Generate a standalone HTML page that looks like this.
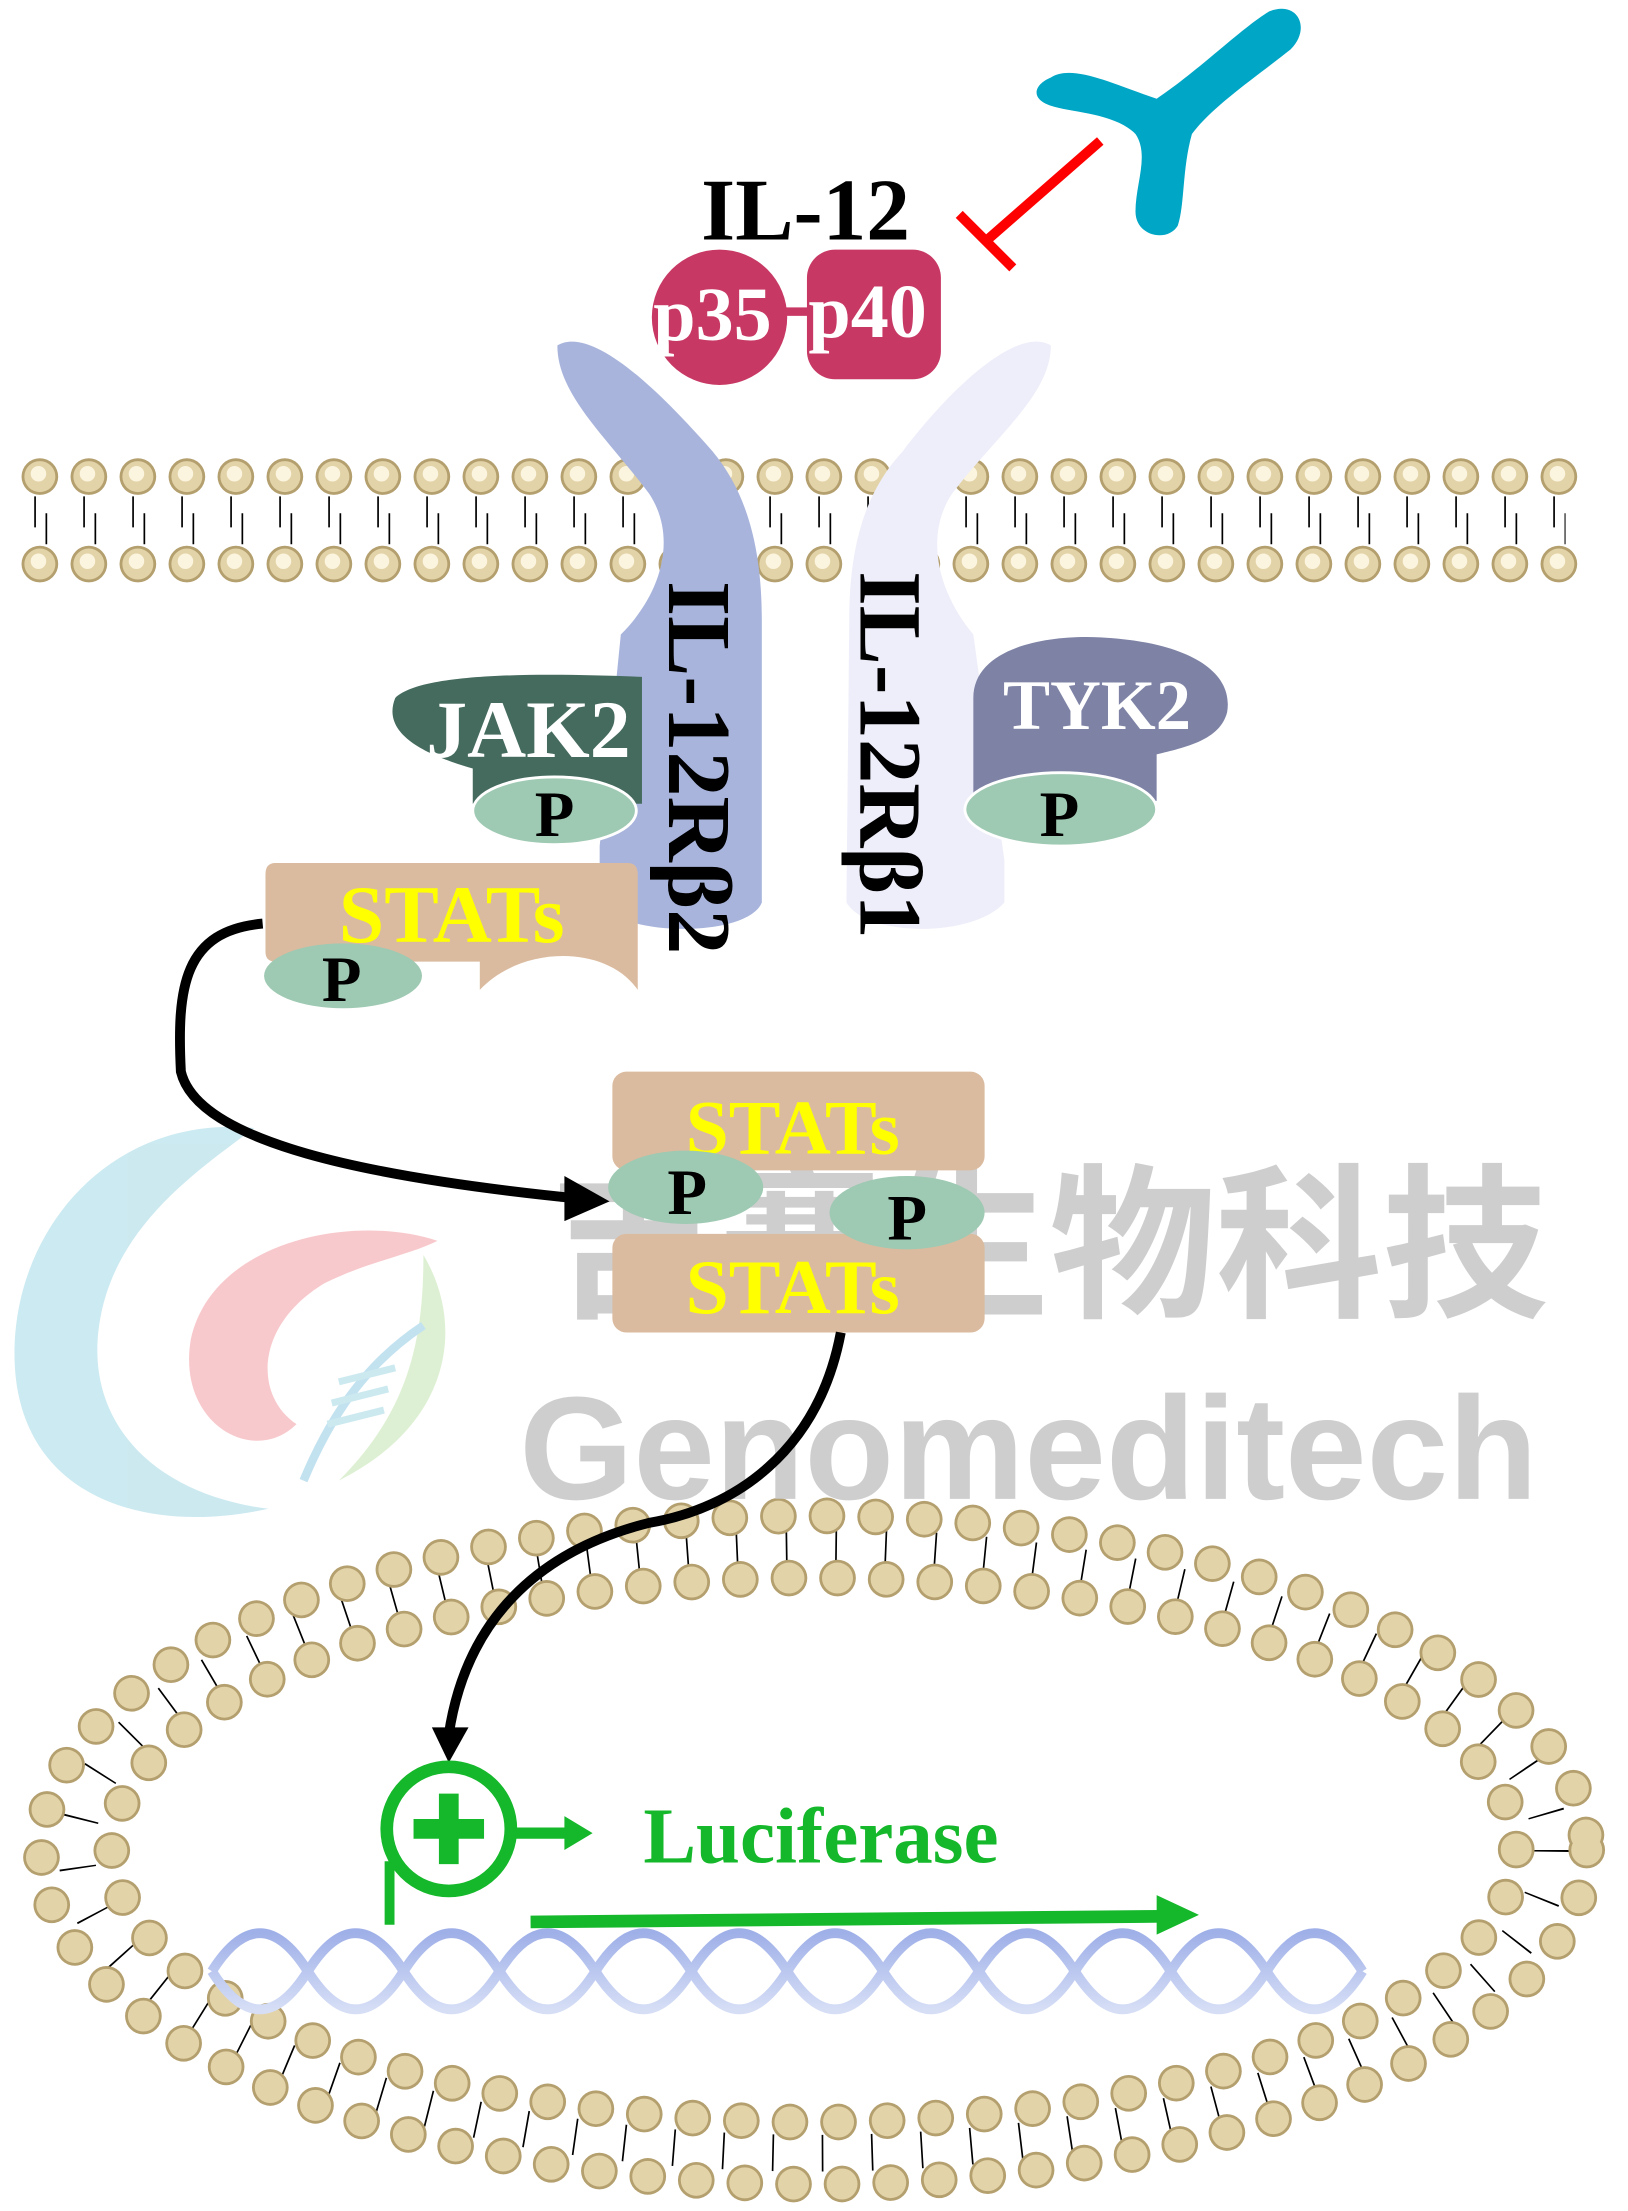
<!DOCTYPE html>
<html><head><meta charset="utf-8">
<style>html,body{margin:0;padding:0;background:#fff}svg{display:block}</style></head>
<body>
<svg width="1628" height="2211" viewBox="0 0 1154 1568" xmlns="http://www.w3.org/2000/svg" font-family="Liberation Serif, serif" font-weight="bold">
<defs>
<linearGradient id="dna" x1="0" y1="0" x2="0" y2="1"><stop offset="0" stop-color="#9fb0e8"/><stop offset="1" stop-color="#d6def6"/></linearGradient>
</defs>
<!-- plasma membrane -->
<g fill="none">
<line x1="24" y1="363" x2="1110" y2="363" stroke="#000" stroke-width="22" stroke-dasharray="1.2 33.55"/>
<line x1="32" y1="375" x2="1110" y2="375" stroke="#000" stroke-width="22" stroke-dasharray="1.2 33.55"/>
<g stroke-linecap="round" stroke-dasharray="0 34.75">
<line x1="28" y1="338" x2="1110" y2="338" stroke="#b49f6e" stroke-width="26"/>
<line x1="28" y1="338" x2="1110" y2="338" stroke="#e3d3a8" stroke-width="22"/>
<line x1="27" y1="336" x2="1110" y2="336" stroke="#fbf4de" stroke-width="11"/>
<line x1="28" y1="400" x2="1110" y2="400" stroke="#b49f6e" stroke-width="26"/>
<line x1="28" y1="400" x2="1110" y2="400" stroke="#e3d3a8" stroke-width="22"/>
<line x1="27" y1="398" x2="1110" y2="398" stroke="#fbf4de" stroke-width="11"/>
</g>
</g>
<!-- nucleus membrane -->
<g fill="none">
<ellipse cx="577" cy="1312" rx="523" ry="215" stroke="#000" stroke-width="26" stroke-dasharray="1.2 34"/>
<g stroke-linecap="round">
<ellipse cx="577" cy="1312" rx="548" ry="237" stroke="#b49f6e" stroke-width="26" stroke-dasharray="0 34.5"/>
<ellipse cx="577" cy="1312" rx="548" ry="237" stroke="#e3d3a8" stroke-width="22" stroke-dasharray="0 34.5"/>
<ellipse cx="577" cy="1312" rx="498" ry="193" stroke="#b49f6e" stroke-width="26" stroke-dasharray="0 34.5"/>
<ellipse cx="577" cy="1312" rx="498" ry="193" stroke="#e3d3a8" stroke-width="22" stroke-dasharray="0 34.5"/>
</g>
</g>
<!-- watermark -->
<g opacity="0.45">
<path d="M180 800 C80 790 10 870 10 960 C10 1060 100 1090 190 1070 C110 1060 60 1010 70 940 C80 870 140 830 180 800Z" fill="#8fd0e0"/>
<path d="M310 880 C250 860 150 880 135 950 C125 1010 180 1040 210 1010 C180 990 180 940 230 910 C260 895 290 890 310 880Z" fill="#f08890"/>
<path d="M300 890 C330 940 320 1010 240 1050 C290 1000 300 950 300 890Z" fill="#b8e0a0"/>
<path d="M215 1050 C240 990 270 960 300 940" stroke="#7cc0e0" stroke-width="6" fill="none"/>
<path d="M240 980 l40 -10 M235 995 l40 -10 M232 1010 l40 -10" stroke="#8fd0e0" stroke-width="5"/>
</g>
<text x="390" y="925" font-family="Noto Sans CJK SC, sans-serif" font-weight="bold" font-size="118" fill="#c9c9c9" opacity="0.9">吉赛生物科技</text>
<text x="368" y="1063" font-family="Liberation Sans, sans-serif" font-weight="bold" font-size="104" fill="#c9c9c9" opacity="0.9">Genomeditech</text>

<!-- receptors -->
<path d="M395 245 C420 230 470 280 505 320 C530 350 540 390 540 440 L540 640 C530 665 440 665 425 640 L425 600 L440 450 C470 420 480 380 460 350 C430 310 395 280 395 245Z" fill="#a8b4dc"/>
<path d="M745 245 C720 230 670 280 640 320 C612 350 602 390 602 440 L600 640 C615 665 690 665 712 640 L712 610 L690 450 C665 420 655 380 675 350 C705 310 745 280 745 245Z" fill="#eeeefa"/>
<text transform="translate(474 412) rotate(90)" font-size="64" fill="#000">IL-12Rβ2</text>
<text transform="translate(610 405) rotate(90)" font-size="63" fill="#000">IL-12Rβ1</text>
<!-- IL-12 -->
<text x="497" y="170" font-size="62" fill="#000">IL-12</text>
<circle cx="510" cy="225" r="48" fill="#c83864"/>
<rect x="572" y="177" width="95" height="92" rx="20" fill="#c83864"/>
<rect x="553" y="218" width="25" height="6" fill="#c83864"/>
<text x="463" y="241" font-size="54" fill="#fff">p35</text>
<text x="573" y="239" font-size="54" fill="#fff">p40</text>
<!-- antibody + inhibition -->
<path d="M745 55 C760 45 790 60 820 70 C850 50 880 20 900 8 C920 0 930 20 915 35 C890 55 860 75 845 95 C838 120 840 145 835 160 C828 172 805 168 805 150 C805 130 815 110 805 95 C790 80 760 80 745 75 C730 70 733 60 745 55Z" fill="#00a6c6"/>
<path d="M780 100 L700 170 M680 152 L718 190" stroke="#ff0000" stroke-width="7" fill="none"/>
<!-- JAK2 -->
<path d="M280 495 C300 475 400 478 455 480 L455 570 L335 570 L335 545 C300 535 270 520 280 495Z" fill="#456b5e"/>
<text x="302" y="537" font-size="58" fill="#fff">JAK2</text>
<ellipse cx="393" cy="575" rx="58" ry="24" fill="#9ec9b2" stroke="#fff" stroke-width="2"/>
<text x="379" y="593" font-size="46" fill="#000">P</text>
<!-- TYK2 -->
<path d="M690 495 C690 460 740 450 780 452 C840 455 875 475 870 505 C865 525 840 530 820 535 L820 568 L690 568Z" fill="#7e83a6"/>
<text x="711" y="517" font-size="50" fill="#fff">TYK2</text>
<ellipse cx="752" cy="574" rx="68" ry="26" fill="#9ec9b2" stroke="#fff" stroke-width="2"/>
<text x="737" y="593" font-size="46" fill="#000">P</text>
<!-- STATs cytoplasm -->
<path d="M195 612 L445 612 Q452 612 452 620 L452 702 C430 670 370 670 340 702 L340 682 L195 682 Q188 682 188 675 L188 620 Q188 612 195 612Z" fill="#dbbb9f"/>
<text x="240" y="668" font-size="58" fill="#ffff00">STATs</text>
<ellipse cx="243" cy="692" rx="56" ry="23" fill="#9ec9b2"/>
<text x="228" y="710" font-size="46" fill="#000">P</text>
<path d="M186 655 C130 660 125 700 128 760 C140 810 260 835 410 850" stroke="#000" stroke-width="7" fill="none"/>
<path d="M400 834 L432 852 L400 866Z" fill="#000"/>
<!-- dimer -->
<rect x="434" y="760" width="264" height="70" rx="10" fill="#dbbb9f"/>
<rect x="434" y="875" width="264" height="70" rx="10" fill="#dbbb9f"/>
<text x="486" y="818" font-size="55" fill="#ffff00">STATs</text>
<text x="486" y="931" font-size="55" fill="#ffff00">STATs</text>
<ellipse cx="486" cy="842" rx="55" ry="26" fill="#9ec9b2"/>
<text x="473" y="861" font-size="46" fill="#000">P</text>
<ellipse cx="643" cy="860" rx="55" ry="26" fill="#9ec9b2"/>
<text x="629" y="879" font-size="46" fill="#000">P</text>
<path d="M596 945 C580 1030 520 1070 460 1080 C380 1100 330 1150 318 1230" stroke="#000" stroke-width="7" fill="none"/>
<path d="M306 1225 L318 1250 L332 1225Z" fill="#000"/>
<!-- DNA -->
<g fill="none" stroke="url(#dna)">
<line x1="152" y1="1398" x2="965" y2="1398" stroke-width="44" stroke-dasharray="2.5 9" opacity="0.55"/>
<path d="M150 1398 q34 -54 68 0 t68 0 t68 0 t68 0 t68 0 t68 0 t68 0 t68 0 t68 0 t68 0 t68 0 t68 0" stroke-width="7"/>
<path d="M150 1398 q34 54 68 0 t68 0 t68 0 t68 0 t68 0 t68 0 t68 0 t68 0 t68 0 t68 0 t68 0 t68 0" stroke-width="7"/>
</g>
<!-- promoter -->
<circle cx="318" cy="1297" r="44" fill="#fff" stroke="#14b82a" stroke-width="9"/>
<path d="M318 1272 V1322 M293 1297 H343" stroke="#14b82a" stroke-width="14"/>
<path d="M276 1320 V1365" stroke="#14b82a" stroke-width="7"/>
<path d="M360 1300 H405" stroke="#14b82a" stroke-width="8"/>
<path d="M400 1288 L420 1300 L400 1312Z" fill="#14b82a"/>
<text x="456" y="1321" font-size="56" fill="#14b82a">Luciferase</text>
<path d="M376 1363 L825 1359" stroke="#14b82a" stroke-width="9"/>
<path d="M820 1344 L850 1358 L820 1372Z" fill="#14b82a"/>
</svg>
</body></html>
